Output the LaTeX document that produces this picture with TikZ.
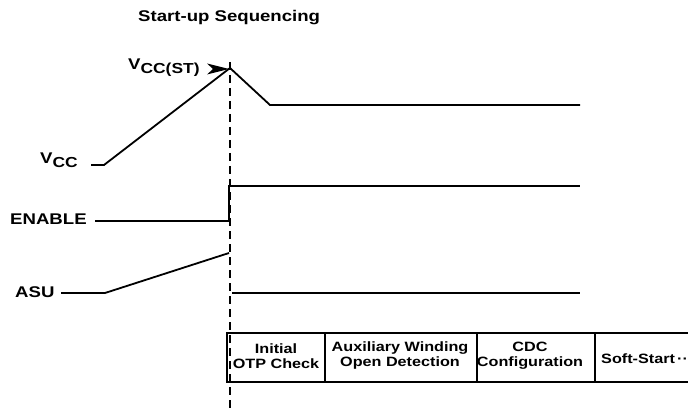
\documentclass[tikz,border=0pt]{standalone}
\usepackage{fontspec}
\setmainfont{Liberation Sans}
\newfontfamily\widefont[FakeStretch=1.2]{Liberation Sans}
\newcommand{\lowsub}[1]{\raisebox{-3.5pt}{\fontsize{14.5}{15}\selectfont #1}}
\usetikzlibrary{positioning,arrows.meta}

\begin{document}
\begin{tikzpicture}[x=1pt,y=-1pt,
	wave/.style={line width=1.8pt},
	marker/.style={line width=1.6pt,dash pattern=on 8pt off 5pt},
	sig/.style={font=\widefont\bfseries\fontsize{15.5}{17}\selectfont,anchor=base west,inner sep=0pt},
	cell/.style={font=\widefont\bfseries\fontsize{13.5}{15}\selectfont,align=center,inner sep=0pt}]
	\useasboundingbox (0,0) rectangle (688,409);
	% title
	\node[sig] (title) at (138,22) {Start-up Sequencing};
	% dashed start line
	\coordinate (mtop) at (230,62);
	\coordinate (mbot) at (230,409);
	\draw[marker] (mtop) -- (mbot);
	% VCC waveform
	\node[sig] (vcc) at (40,164) {V\lowsub{CC}};
	\coordinate (v0) at (91,165);
	\coordinate (v1) at (104,165);
	\coordinate (vpk) at (230,68);
	\coordinate (v2) at (270,105);
	\coordinate (v3) at (580,105);
	\draw[wave] (v0) -- (v1) -- (vpk) -- (v2) -- (v3);
	\node[sig] (vst) at (128,70) {V\lowsub{CC(ST)}};
	\coordinate (vsttip) at (229,69);
	% arrowhead onto the peak
	\fill (vsttip) -- ++(-22,-5.5) -- ++(6,5.5) -- ++(-6,5.5) -- cycle;
	% ENABLE waveform
	\node[sig] (en) at (10,224) {ENABLE};
	\coordinate (e0) at (95,221);
	\coordinate (e1) at (229,221);
	\coordinate (e2) at (229,186);
	\coordinate (e3) at (580,186);
	\draw[wave] (e0) -- (e1) -- (e2) -- (e3);
	% ASU waveform
	\node[sig] (asu) at (15,297) {ASU};
	\coordinate (a0) at (61,293);
	\coordinate (a1) at (105,293);
	\coordinate (a2) at (229,253);
	\coordinate (a3) at (232,293);
	\coordinate (a4) at (580,293);
	\draw[wave] (a0) -- (a1) -- (a2);
	\draw[wave] (a3) -- (a4);
	% phase table
	\coordinate (tl) at (227,333);
	\coordinate (bl) at (227,382);
	\coordinate (tr) at (688,333);
	\coordinate (br) at (688,382);
	\draw[wave] (tr) -- (tl) -- (bl) -- (br);
	\foreach \xx in {325,477,595}
	\draw[wave] (\xx,333) -- (\xx,382);
	\node[cell] (otp) at (276,356) {Initial\\OTP Check};
	\node[cell] (aux) at (400,356) {Auxiliary Winding\\Open Detection};
	\node[cell] (cdc) at (530,356) {CDC\\Configuration};
	\node[cell,anchor=west] (ss) at (601,359) {Soft-Start\,··};
\end{tikzpicture}
\end{document}
